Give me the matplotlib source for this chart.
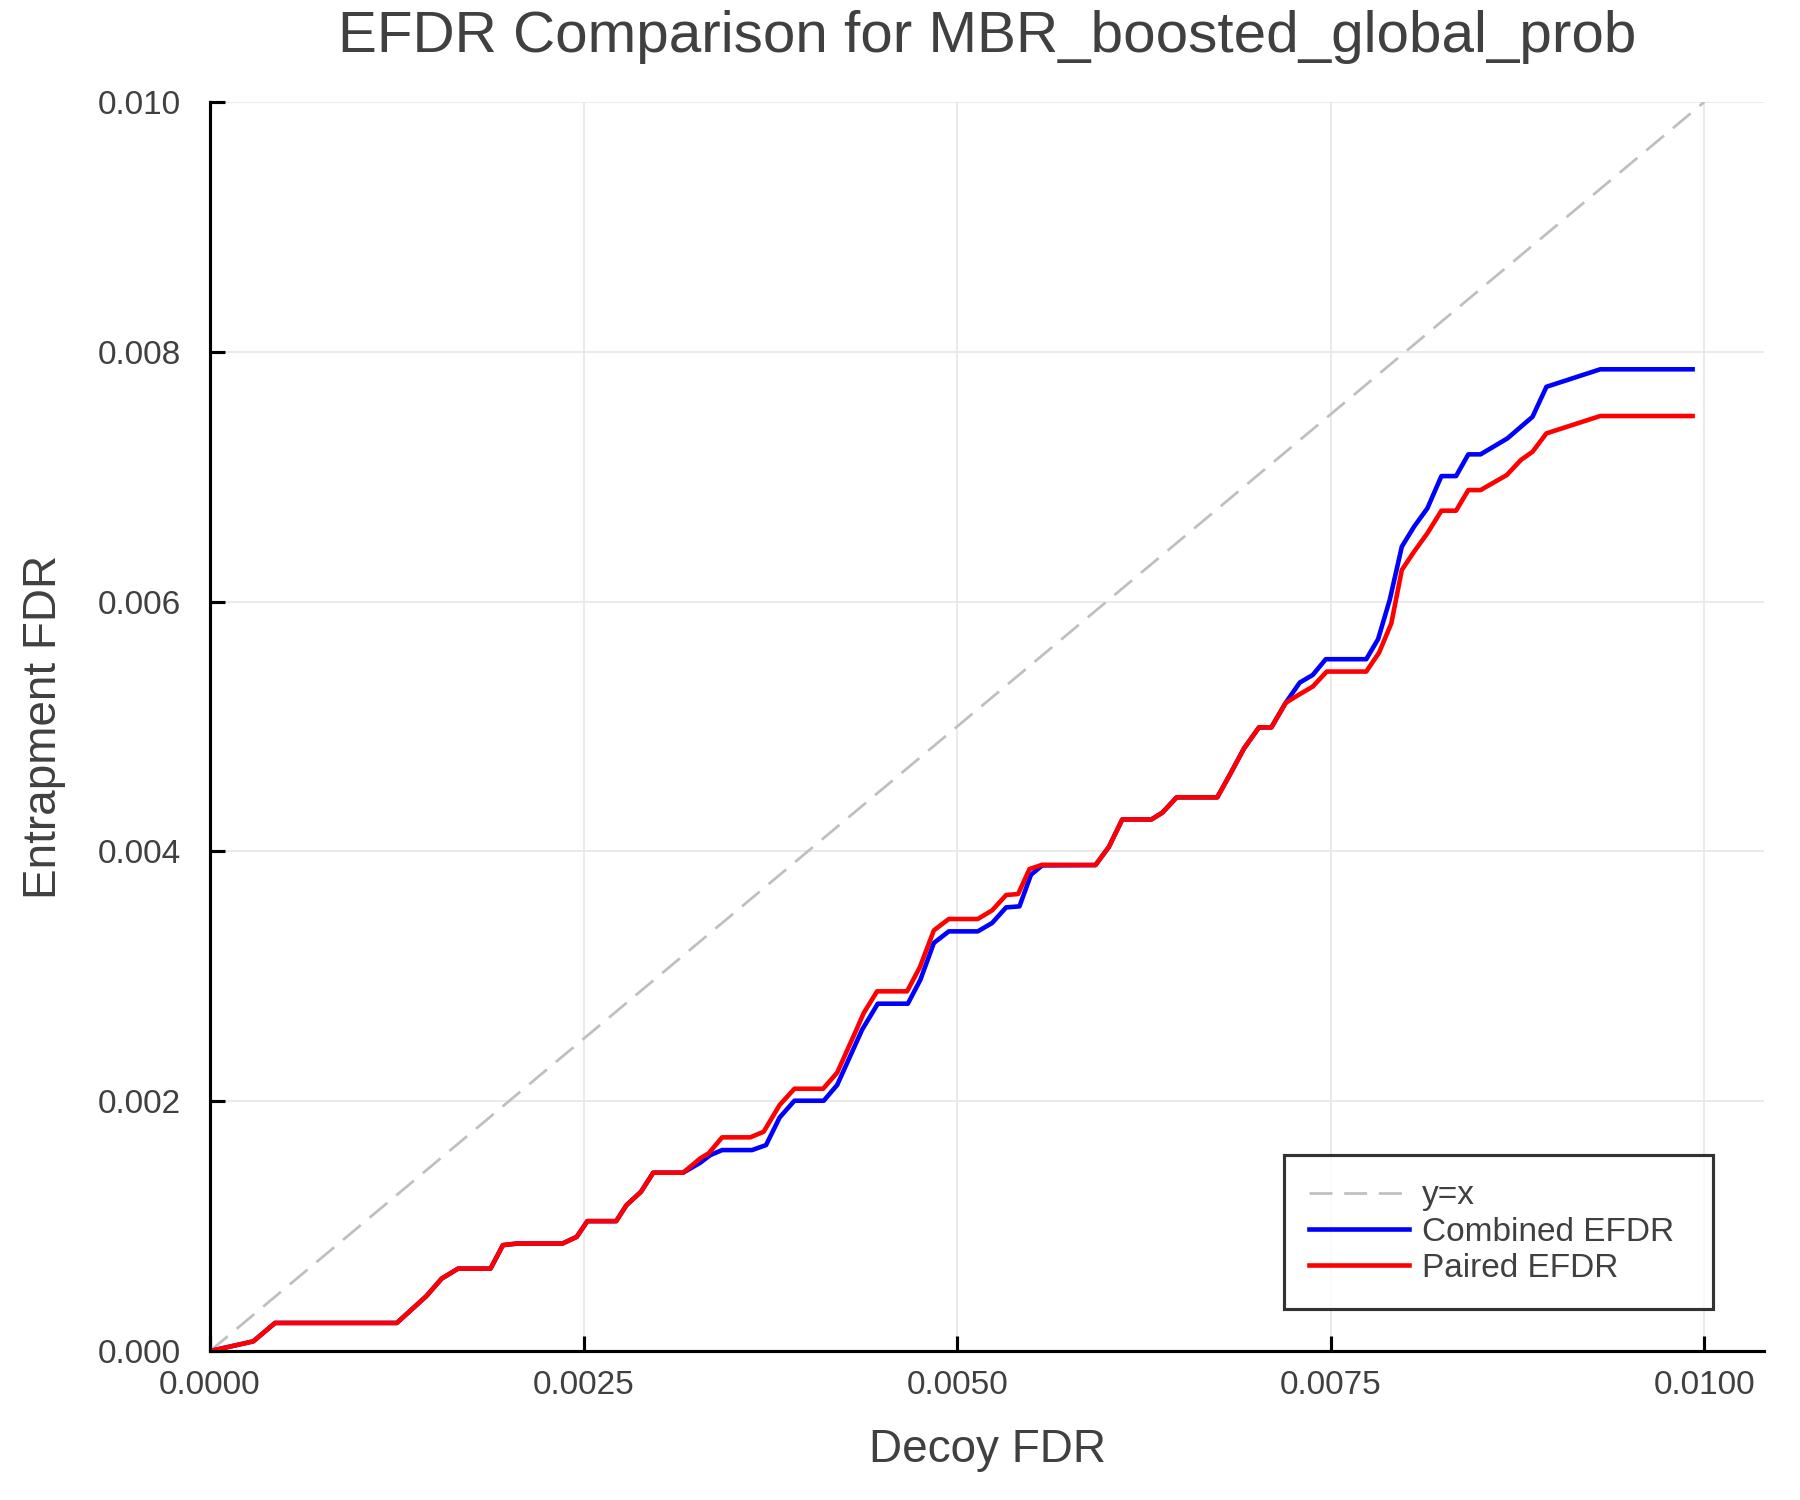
import numpy as np
import matplotlib
matplotlib.use('Agg')
import matplotlib.pyplot as plt

plt.rcParams['font.family'] = ['Liberation Sans', 'DejaVu Sans']

# values
common_start_x = [0, 0.000289, 0.000435, 0.00125, 0.001447, 0.00155, 0.00166, 0.001877,
                  0.00196, 0.002057, 0.002359, 0.002454, 0.002525, 0.002718, 0.002787,
                  0.002884, 0.002966, 0.003166]
common_start_y = [0, 0.0000775, 0.000225, 0.000225, 0.000439, 0.00058, 0.00066, 0.00066,
                  0.000848, 0.000861, 0.000861, 0.000914, 0.00104, 0.00104, 0.001168,
                  0.001275, 0.001428, 0.001428]

combined_mid_x = [0.003281, 0.003348, 0.003427, 0.003627, 0.003721, 0.003812, 0.003911,
                  0.004107, 0.004197, 0.004364, 0.004469, 0.00467, 0.004754, 0.004844,
                  0.004944, 0.005138, 0.005234, 0.005328, 0.005417, 0.005494, 0.005569]
combined_mid_y = [0.001508, 0.001569, 0.001609, 0.001609, 0.001649, 0.00187, 0.002004,
                  0.002004, 0.00213, 0.002573, 0.002781, 0.002781, 0.002973, 0.003267,
                  0.00336, 0.00336, 0.003427, 0.003552, 0.00356, 0.003813, 0.003888]

paired_mid_x = [0.003281, 0.003337, 0.003427, 0.003616, 0.003705, 0.003812, 0.003911,
                0.004103, 0.004197, 0.004326, 0.004375, 0.004464, 0.004665, 0.00475,
                0.004844, 0.004944, 0.005138, 0.005234, 0.005328, 0.005408, 0.005484,
                0.005569]
paired_mid_y = [0.001543, 0.001583, 0.001711, 0.001711, 0.001756, 0.00197, 0.0021,
                0.0021, 0.002229, 0.002573, 0.002707, 0.00288, 0.00288, 0.003072,
                0.003368, 0.003459, 0.003459, 0.003528, 0.003651, 0.003659, 0.003859,
                0.003893]

common_mid_x = [0.005926, 0.006016, 0.006105, 0.0063, 0.006373, 0.006469, 0.006741,
                0.00683, 0.00692, 0.00702, 0.007103, 0.007199]
common_mid_y = [0.003891, 0.004037, 0.004256, 0.004256, 0.00431, 0.004433, 0.004433,
                0.004625, 0.004825, 0.004993, 0.004993, 0.00519]

combined_end_x = [0.007293, 0.00738, 0.007467, 0.007738, 0.007817, 0.007895, 0.007976,
                  0.008058, 0.008147, 0.008241, 0.008339, 0.008421, 0.008503, 0.008683,
                  0.008851, 0.008944, 0.009304, 0.009922]
combined_end_y = [0.005352, 0.005413, 0.005539, 0.005539, 0.005699, 0.006013, 0.00644,
                  0.0066, 0.006747, 0.007005, 0.007005, 0.007179, 0.007179, 0.007307,
                  0.00748, 0.00772, 0.00786, 0.00786]

paired_end_x = [0.007293, 0.00738, 0.007474, 0.007738, 0.007824, 0.007906, 0.007976,
                0.008058, 0.008147, 0.008241, 0.008339, 0.008421, 0.008503, 0.008678,
                0.008773, 0.008851, 0.008944, 0.009304, 0.009922]
paired_end_y = [0.005259, 0.00532, 0.00544, 0.00544, 0.005592, 0.005827, 0.006253,
                0.0064, 0.006547, 0.006728, 0.006728, 0.006893, 0.006893, 0.007013,
                0.007134, 0.0072, 0.007347, 0.007486, 0.007486]

diag = [0, 0.01]

combined_x = common_start_x + combined_mid_x + common_mid_x + combined_end_x
combined_y = common_start_y + combined_mid_y + common_mid_y + combined_end_y
paired_x = common_start_x + paired_mid_x + common_mid_x + paired_end_x
paired_y = common_start_y + paired_mid_y + common_mid_y + paired_end_y

xticks = [0, 0.0025, 0.005, 0.0075, 0.01]
yticks = [0, 0.002, 0.004, 0.006, 0.008, 0.010]

txt = '#404040'

fig = plt.figure(figsize=(12, 10), dpi=150)
ax = fig.add_axes([0.1167, 0.0993, 0.98 - 0.1167, 0.932 - 0.0993])

ax.plot(diag, diag, color='#bfbfbf', lw=1.3, dashes=(8.5, 4.3), label='y=x')
ax.plot(combined_x, combined_y, color='#0000ff', lw=2.2, label='Combined EFDR')
ax.plot(paired_x, paired_y, color='#ff0000', lw=2.2, label='Paired EFDR')

ax.set_xlim(0, 0.0104)
ax.set_ylim(0, 0.010)
ax.set_xticks(xticks)
ax.set_xticklabels(['%.4f' % v for v in xticks])
ax.set_yticks(yticks)
ax.set_yticklabels(['%.3f' % v for v in yticks])
ax.grid(True, color='#e6e6e6', lw=0.8)
ax.set_axisbelow(True)

for s in ['top', 'right']:
    ax.spines[s].set_visible(False)
for s in ['left', 'bottom']:
    ax.spines[s].set_linewidth(1.5)
    ax.spines[s].set_color('black')

ax.tick_params(direction='in', length=7, width=1.5, colors='black',
               labelcolor=txt, labelsize=16)
ax.tick_params(axis='x', pad=9)
ax.tick_params(axis='y', pad=14)

ax.set_title('EFDR Comparison for MBR_boosted_global_prob', fontsize=28,
             color=txt, pad=24)
ax.set_xlabel('Decoy FDR', fontsize=22, color=txt, labelpad=13)
ax.set_ylabel('Entrapment FDR', fontsize=22, color=txt, labelpad=15)

leg = ax.legend(loc='lower left', bbox_to_anchor=(0.691, 0.0336, 0.276, 0.12),
                mode='expand', borderaxespad=0, fontsize=16, frameon=True,
                fancybox=False, edgecolor='black', handlelength=3.0,
                handletextpad=0.4, labelspacing=0.16, borderpad=0.75)
leg.get_frame().set_linewidth(1.5)
for t in leg.get_texts():
    t.set_color(txt)

plt.savefig('out.png', dpi=150)
